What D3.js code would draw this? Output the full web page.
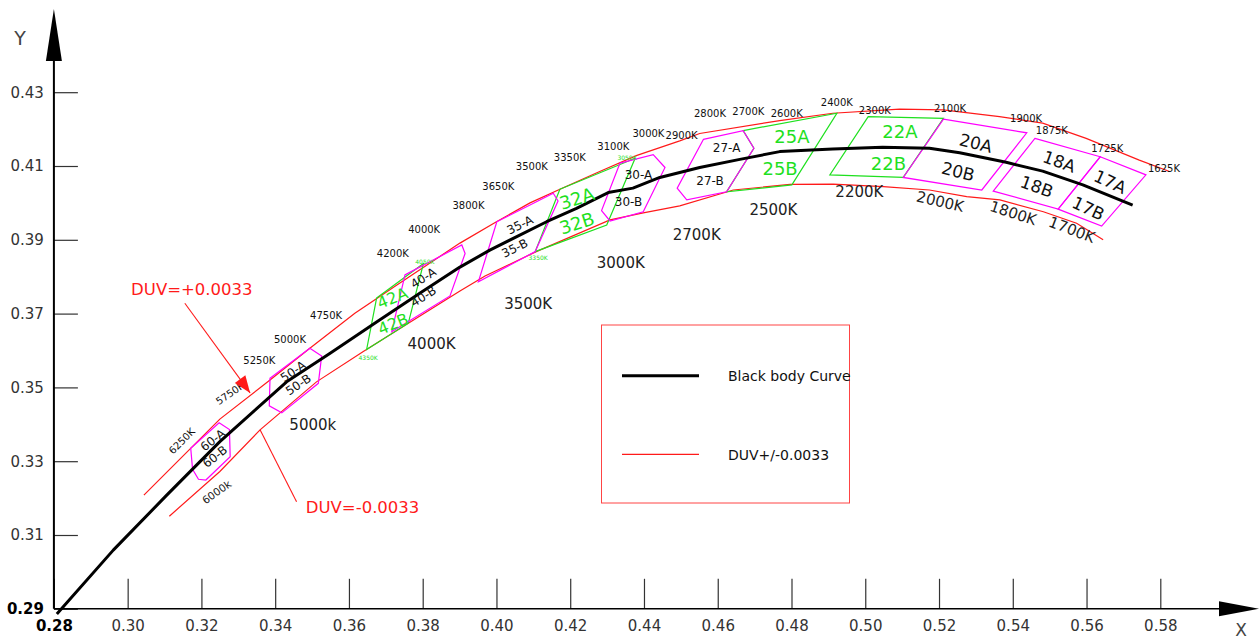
<!DOCTYPE html>
<html>
<head>
<meta charset="utf-8">
<script src="https://cdnjs.cloudflare.com/ajax/libs/d3/7.8.5/d3.min.js"></script>
<style>
body { margin: 0; background: #fff; }
text { font-family: "DejaVu Sans", sans-serif; }
</style>
</head>
<body>
<div class="canvas"></div>
<script>
// ---- data (CIE 1931 x, y) ----
const xTicks = [0.28, 0.30, 0.32, 0.34, 0.36, 0.38, 0.40, 0.42, 0.44, 0.46, 0.48, 0.50, 0.52, 0.54, 0.56, 0.58];
const xTickLabels = ['0.28', '0.30', '0.32', '0.34', '0.36', '0.38', '0.40', '0.42', '0.44', '0.46', '0.48', '0.50', '0.52', '0.54', '0.56', '0.58'];
const yTicks = [0.29, 0.31, 0.33, 0.35, 0.37, 0.39, 0.41, 0.43];
const yTickLabels = ['0.29', '0.31', '0.33', '0.35', '0.37', '0.39', '0.41', '0.43'];

const blackBody = [
  [0.2808, 0.2886], [0.2961, 0.3059], [0.3106, 0.3208], [0.3250, 0.3353], [0.3431, 0.3515],
  [0.3548, 0.3592], [0.3675, 0.3677], [0.3792, 0.3755], [0.3901, 0.3826], [0.3982, 0.3872],
  [0.4136, 0.3949], [0.4217, 0.3985], [0.4303, 0.4028], [0.4370, 0.4040], [0.4443, 0.4069],
  [0.4551, 0.4096], [0.4660, 0.4118], [0.4768, 0.4139], [0.4912, 0.4146], [0.5047, 0.4151],
  [0.5174, 0.4148], [0.5256, 0.4136], [0.5382, 0.4110], [0.5481, 0.4086], [0.5590, 0.4049],
  [0.5725, 0.3994]
];

const duvPlus = [
  [0.3044, 0.3208], [0.3250, 0.3414], [0.3386, 0.3520], [0.3494, 0.3606], [0.3616, 0.3701],
  [0.3729, 0.3777], [0.3901, 0.3891], [0.4000, 0.3949], [0.4091, 0.4000], [0.4172, 0.4037],
  [0.4280, 0.4085], [0.4379, 0.4128], [0.4497, 0.4168], [0.4551, 0.4188], [0.4768, 0.4223],
  [0.4912, 0.4243], [0.5093, 0.4254], [0.5211, 0.4252], [0.5364, 0.4234], [0.5481, 0.4216],
  [0.5599, 0.4175], [0.5743, 0.4116], [0.5825, 0.4085]
];

const duvMinus = [
  [0.3113, 0.3151], [0.3250, 0.3272], [0.3359, 0.3385], [0.3512, 0.3515], [0.3639, 0.3597],
  [0.3760, 0.3673], [0.3901, 0.3761], [0.3969, 0.3802], [0.4108, 0.3868], [0.4308, 0.3954],
  [0.4398, 0.3973], [0.4497, 0.3992], [0.4642, 0.4035], [0.4796, 0.4050], [0.4913, 0.4051],
  [0.5049, 0.4044], [0.5174, 0.4035], [0.5275, 0.4017], [0.5365, 0.4008], [0.5483, 0.3976],
  [0.5573, 0.3945], [0.5645, 0.3900]
];

// bin outlines
const greenBins = [
  [[0.3675, 0.3742], [0.3802, 0.3836], [0.3761, 0.3674], [0.3648, 0.3603]],                 // 42
  [[0.4172, 0.4037], [0.4376, 0.4121], [0.4299, 0.3940], [0.4105, 0.3868]],                 // 32
  [[0.4669, 0.4196], [0.4923, 0.4243], [0.4801, 0.4049], [0.4624, 0.4030], [0.4698, 0.4148]], // 25
  [[0.5008, 0.4234], [0.5212, 0.4229], [0.5103, 0.4069], [0.4904, 0.4076]]                  // 22
];
const magentaBins = [
  [[0.3171, 0.3335], [0.3248, 0.3404], [0.3276, 0.3386], [0.3278, 0.3312], [0.3212, 0.3249], [0.3192, 0.3251], [0.3176, 0.3278]], // 60
  [[0.3386, 0.3525], [0.3494, 0.3606], [0.3526, 0.3585], [0.3517, 0.3511], [0.3418, 0.3431], [0.3384, 0.3450]], // 50
  [[0.3752, 0.3805], [0.3906, 0.3886], [0.3915, 0.3863], [0.3874, 0.3748], [0.3716, 0.3651]],                   // 40
  [[0.4001, 0.3949], [0.4154, 0.4026], [0.4167, 0.4005], [0.4105, 0.3868], [0.3951, 0.3786]],                   // 35
  [[0.4335, 0.4108], [0.4425, 0.4131], [0.4457, 0.4096], [0.4398, 0.3976], [0.4308, 0.3951], [0.4285, 0.3979]], // 30
  [[0.4561, 0.4172], [0.4669, 0.4196], [0.4698, 0.4148], [0.4624, 0.4030], [0.4516, 0.4008], [0.4490, 0.4040]], // 27
  [[0.5212, 0.4227], [0.5438, 0.4190], [0.5316, 0.4035], [0.5103, 0.4069]],  // 20
  [[0.5460, 0.4175], [0.5637, 0.4125], [0.5523, 0.3983], [0.5347, 0.4032]],  // 18
  [[0.5637, 0.4125], [0.5761, 0.4076], [0.5641, 0.3937], [0.5523, 0.3983]]   // 17
];

// temperatures along the +duv line
const upperTemps = [
  ['6250K', 0.3147, 0.3355], ['5750K', 0.3278, 0.3484], ['5250K', 0.3357, 0.3572], ['5000K', 0.3440, 0.3630],
  ['4750K', 0.3538, 0.3696], ['4200K', 0.3719, 0.3863], ['4000K', 0.3804, 0.3928], ['3800K', 0.3924, 0.3992],
  ['3650K', 0.4005, 0.4044], ['3500K', 0.4096, 0.4098], ['3350K', 0.4199, 0.4124], ['3100K', 0.4317, 0.4152],
  ['3000K', 0.4412, 0.4187], ['2900K', 0.4502, 0.4184], ['2800K', 0.4579, 0.4243], ['2700K', 0.4683, 0.4249],
  ['2600K', 0.4787, 0.4241], ['2400K', 0.4923, 0.4272], ['2300K', 0.5026, 0.4250], ['2100K', 0.5230, 0.4256],
  ['1900K', 0.5436, 0.4229], ['1875K', 0.5506, 0.4196], ['1725K', 0.5656, 0.4147], ['1625K', 0.5810, 0.4092]
];
// temperatures along the -duv line
const lowerTemps = [
  ['6000k', 0.3241, 0.3217], ['5000k', 0.3502, 0.3398], ['4000K', 0.3824, 0.3617], ['3500K', 0.4086, 0.3726],
  ['3000K', 0.4337, 0.3838], ['2700K', 0.4543, 0.3913], ['2500K', 0.4751, 0.3981], ['2200K', 0.4984, 0.4030],
  ['2000K', 0.5203, 0.4003], ['1800K', 0.5401, 0.3972], ['1700K', 0.5560, 0.3927]
];
const binNames = [
  ['60-A', 0.3231, 0.3357], ['60-B', 0.3237, 0.3312], ['50-A', 0.3449, 0.3543], ['50-B', 0.3463, 0.3507],
  ['40-A', 0.3802, 0.3796], ['40-B', 0.3802, 0.3746], ['35-A', 0.4064, 0.3940], ['35-B', 0.4050, 0.3877],
  ['30-A', 0.4385, 0.4076], ['30-B', 0.4358, 0.4003], ['27-A', 0.4624, 0.4148], ['27-B', 0.4579, 0.4060],
  ['20A', 0.5300, 0.4162], ['20B', 0.5252, 0.4085], ['18A', 0.5526, 0.4112], ['18B', 0.5465, 0.4044],
  ['17A', 0.5664, 0.4057], ['17B', 0.5605, 0.3985]
];
const greenNames = [
  ['42A', 0.3718, 0.3742], ['42B', 0.3720, 0.3672], ['32A', 0.4218, 0.4012], ['32B', 0.4218, 0.3945],
  ['25A', 0.4801, 0.4179], ['25B', 0.4769, 0.4094], ['22A', 0.5094, 0.4193], ['22B', 0.5063, 0.4107]
];
const greenTiny = [
  ['4050K', 0.3806, 0.3840], ['4350K', 0.3652, 0.3580], ['3350K', 0.4113, 0.3851], ['3050K', 0.4354, 0.4124]
];
const duvNotes = [
  {text: 'DUV=+0.0033', at: [0.3174, 0.3750], from: [0.3155, 0.3728], to: [0.3332, 0.3485]},
  {text: 'DUV=-0.0033', at: [0.3637, 0.3160], from: [0.3458, 0.3190], to: [0.3359, 0.3385]}
];

// label tilt in degrees
const tilt = {
  '6250K': -45, '5750K': -35, '6000k': -35, '60-A': -38, '60-B': -38, '50-A': -34, '50-B': -34,
  '40-A': -32, '40-B': -32, '35-A': -26, '35-B': -26, '42A': -22, '42B': -22, '32A': -18, '32B': -18,
  '2000K': 13, '1800K': 18, '1700K': 21, '20A': 14, '20B': 14, '18A': 20, '18B': 20, '17A': 25, '17B': 25
};

// ---- drawing ----
const svg = d3.select('.canvas')
  .append('svg')
  .attr('width', 1259)
  .attr('height', 642);

const x = d3.scaleLinear().domain([0.28, 0.58]).range([53.9, 1160.3]);
const y = d3.scaleLinear().domain([0.29, 0.43]).range([608.8, 92.2]);

const RED = '#ff1a1a', MAG = '#ff00ff', GREEN = '#1fe01f';

// axes
const xAxis = d3.axisBottom(x)
  .tickValues(xTicks)
  .tickFormat((d, i) => xTickLabels[i])
  .tickSizeInner(-30).tickSizeOuter(0).tickPadding(12);
const yAxis = d3.axisLeft(y)
  .tickValues(yTicks)
  .tickFormat((d, i) => yTickLabels[i])
  .tickSizeInner(-24).tickSizeOuter(0).tickPadding(10);

const xg = svg.append('g').attr('transform', `translate(0,${y(0.29)})`).call(xAxis);
const yg = svg.append('g').attr('transform', `translate(${x(0.28)},0)`).call(yAxis);
[xg, yg].forEach(g => {
  g.select('.domain').remove();
  g.selectAll('.tick line').attr('stroke', '#333').attr('stroke-width', 1.2);
  g.selectAll('.tick text')
    .attr('font-family', '"DejaVu Sans", sans-serif')
    .attr('font-size', 15).attr('fill', '#333');
});
xg.selectAll('.tick text').filter((d, i) => i === 0).attr('font-weight', 'bold').attr('fill', '#000');
yg.selectAll('.tick text').filter((d, i) => i === 0).attr('font-weight', 'bold').attr('fill', '#000');

// axis lines with arrows
const ox = x(0.28), oy = y(0.29);
svg.append('line').attr('x1', ox).attr('y1', oy).attr('x2', 1222).attr('y2', oy)
  .attr('stroke', '#000').attr('stroke-width', 1.5);
svg.append('path').attr('d', `M1219,${oy - 7.5}L1259,${oy}L1219,${oy + 7.5}Z`).attr('fill', '#000');
svg.append('line').attr('x1', ox).attr('y1', oy).attr('x2', ox).attr('y2', 58)
  .attr('stroke', '#000').attr('stroke-width', 2);
svg.append('path').attr('d', `M${ox - 8},61L${ox},9L${ox + 8},61Z`).attr('fill', '#000');
svg.append('text').attr('x', 20).attr('y', 45).attr('text-anchor', 'middle')
  .attr('font-size', 19).attr('fill', '#444').text('Y');
svg.append('text').attr('x', 1241).attr('y', 636).attr('text-anchor', 'middle')
  .attr('font-size', 17).attr('fill', '#444').text('X');

const line = d3.line().x(d => x(d[0])).y(d => y(d[1]));
const pts = d => d.map(p => `${x(p[0])},${y(p[1])}`).join(' ');

// duv limits
svg.append('path').datum(duvPlus).attr('d', line)
  .attr('fill', 'none').attr('stroke', RED).attr('stroke-width', 1.2);
svg.append('path').datum(duvMinus).attr('d', line)
  .attr('fill', 'none').attr('stroke', RED).attr('stroke-width', 1.2);

// bins
svg.selectAll('polygon.green').data(greenBins).enter().append('polygon')
  .attr('class', 'green').attr('points', pts)
  .attr('fill', 'none').attr('stroke', GREEN).attr('stroke-width', 1.2);
svg.selectAll('polygon.mag').data(magentaBins).enter().append('polygon')
  .attr('class', 'mag').attr('points', pts)
  .attr('fill', 'none').attr('stroke', MAG).attr('stroke-width', 1.2);

// black body curve
svg.append('path').datum(blackBody).attr('d', line)
  .attr('fill', 'none').attr('stroke', '#000').attr('stroke-width', 3)
  .attr('stroke-linejoin', 'round');

// labels
function labels(list, size, color, font) {
  svg.append('g').selectAll('text').data(list).enter().append('text')
    .attr('transform', d => `translate(${x(d[1])},${y(d[2])}) rotate(${tilt[d[0]] || 0})`)
    .attr('text-anchor', 'middle')
    .attr('dominant-baseline', 'central')
    .attr('font-size', d => typeof size === 'function' ? size(d) : size)
    .attr('font-family', font || '"DejaVu Sans", sans-serif')
    .attr('fill', color)
    .text(d => d[0]);
}
labels(upperTemps, 10, '#111');
labels(lowerTemps, d => d[0] === '6000k' ? 10.5 : 15, '#222');
labels(binNames, d => d[0].includes('-') ? 12 : 17, '#111');
labels(greenNames, d => d[0].startsWith('42') ? 16 : 18, GREEN);
labels(greenTiny, 6, GREEN);

// duv call-outs
duvNotes.forEach(n => {
  const x1 = x(n.from[0]), y1 = y(n.from[1]), x2 = x(n.to[0]), y2 = y(n.to[1]);
  svg.append('line').attr('x1', x1).attr('y1', y1).attr('x2', x2).attr('y2', y2)
    .attr('stroke', RED).attr('stroke-width', 1.1);
  svg.append('text').attr('x', x(n.at[0])).attr('y', y(n.at[1]))
    .attr('text-anchor', 'middle').attr('font-size', 16.5)
    .attr('font-family', '"DejaVu Sans Mono", monospace').attr('fill', RED)
    .text(n.text);
});
// arrow head on the +duv call-out
{
  const n = duvNotes[0];
  const x1 = x(n.from[0]), y1 = y(n.from[1]), x2 = x(n.to[0]), y2 = y(n.to[1]);
  const a = Math.atan2(y2 - y1, x2 - x1), L = 17, W = 6.5;
  const bx = x2 - L * Math.cos(a), by = y2 - L * Math.sin(a);
  svg.append('path')
    .attr('d', `M${x2},${y2}L${bx + W * Math.sin(a)},${by - W * Math.cos(a)}L${bx - W * Math.sin(a)},${by + W * Math.cos(a)}Z`)
    .attr('fill', RED);
}

// legend
const legend = svg.append('g');
legend.append('rect').attr('x', 601.5).attr('y', 325).attr('width', 248).attr('height', 178)
  .attr('fill', 'none').attr('stroke', '#f44').attr('stroke-width', 1);
legend.append('line').attr('x1', 622).attr('x2', 699).attr('y1', 375.7).attr('y2', 375.7)
  .attr('stroke', '#000').attr('stroke-width', 3);
legend.append('text').attr('x', 728).attr('y', 381).attr('font-size', 14)
  .attr('font-family', '"Liberation Sans", Arial, sans-serif').attr('fill', '#111').text('Black body Curve');
legend.append('line').attr('x1', 622).attr('x2', 699).attr('y1', 454.3).attr('y2', 454.3)
  .attr('stroke', RED).attr('stroke-width', 1.2);
legend.append('text').attr('x', 728).attr('y', 459.5).attr('font-size', 14)
  .attr('font-family', '"Liberation Sans", Arial, sans-serif').attr('fill', '#111').text('DUV+/-0.0033');
</script>
</body>
</html>
